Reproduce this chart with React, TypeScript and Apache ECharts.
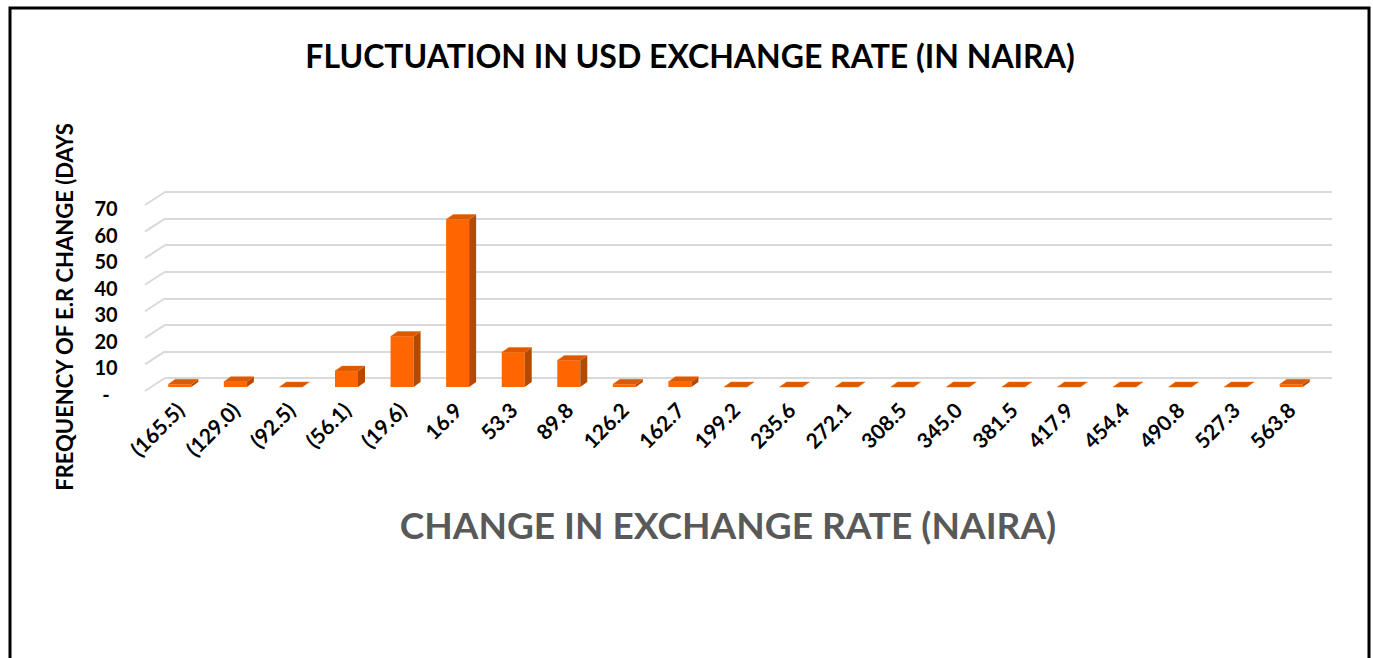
import React, { useEffect, useRef } from "react";
import * as echarts from "echarts";

const categories = [
  "(165.5)", "(129.0)", "(92.5)", "(56.1)", "(19.6)", "16.9", "53.3", "89.8",
  "126.2", "162.7", "199.2", "235.6", "272.1", "308.5", "345.0", "381.5",
  "417.9", "454.4", "490.8", "527.3", "563.8",
];
const frequencies = [1, 2, 0, 6, 19, 63, 13, 10, 1, 2, 0, 0, 0, 0, 0, 0, 0, 0, 0, 0, 1];
const yTicks = [0, 10, 20, 30, 40, 50, 60, 70];

const chartTitle = "FLUCTUATION IN USD EXCHANGE RATE (IN NAIRA)";
const xTitle = "CHANGE IN EXCHANGE RATE (NAIRA)";
const yTitle = "FREQUENCY OF E.R CHANGE (DAYS";

const FONT = "Lato, 'Open Sans', sans-serif";

export default function App() {
  const ref = useRef<HTMLDivElement>(null);
  useEffect(() => {
    if (!ref.current) return;
    const chart = echarts.init(ref.current, undefined, { renderer: "svg" });
    const option: any = {
      animation: false,
      backgroundColor: "#ffffff",
      grid: [
        { left: 165, right: 41, top: 192, bottom: 280 },
        { left: 152, right: 54, top: 208, bottom: 264 },
      ],
      xAxis: [
        {
          gridIndex: 0,
          type: "category",
          data: categories,
          axisLine: { show: false },
          axisTick: { show: false },
          axisLabel: { show: false },
        },
        {
          gridIndex: 1,
          type: "category",
          data: categories,
          axisLine: { show: false },
          axisTick: { show: false },
          axisLabel: {
            interval: 0,
            rotate: 45,
            margin: 12,
            fontSize: 21,
            fontWeight: "bold",
            color: "#000000",
            fontFamily: FONT,
          },
        },
      ],
      yAxis: [
        {
          gridIndex: 0,
          type: "value",
          min: 0,
          max: 70,
          interval: 10,
          axisLine: { show: false },
          axisTick: { show: false },
          axisLabel: { show: false },
          splitLine: { lineStyle: { color: "#D9D9D9", width: 2 } },
        },
        {
          gridIndex: 1,
          type: "value",
          min: 0,
          max: 70,
          interval: 10,
          axisLine: { show: false },
          axisTick: { show: false },
          splitLine: { show: false },
          axisLabel: {
            align: "center",
            margin: 46,
            fontSize: 20,
            fontWeight: "bold",
            color: "#000000",
            fontFamily: FONT,
            formatter: (v: number) => (v === 0 ? "-" : String(v)),
          },
        },
      ],
      series: [
        {
          type: "custom",
          xAxisIndex: 0,
          yAxisIndex: 0,
          silent: true,
          data: yTicks.map((t) => [0, t]),
          encode: { x: 0, y: 1 },
          renderItem: (params: any, api: any) => {
            const p = api.coord([0, api.value(1)]);
            const half = api.size([1, 0])[0] / 2;
            const x0 = p[0] - half;
            return {
              type: "line",
              shape: { x1: x0, y1: p[1], x2: x0 - 20, y2: p[1] + 13 },
              style: { stroke: "#D9D9D9", lineWidth: 2 },
            };
          },
        },
        {
          type: "custom",
          xAxisIndex: 0,
          yAxisIndex: 0,
          data: frequencies.map((v, i) => [i, v]),
          encode: { x: 0, y: 1 },
          renderItem: (params: any, api: any) => {
            const i = api.value(0);
            const v = api.value(1);
            const base = api.coord([i, 0]);
            const top = api.coord([i, v]);
            const w = 23, dx = 7, dy = 5, sx = -13, sy = 9;
            const cx = base[0] + sx;
            const l = cx - w / 2;
            const r = cx + w / 2;
            const yb = base[1] + sy;
            const yt = top[1] + sy;
            return {
              type: "group",
              children: [
                {
                  type: "rect",
                  shape: { x: l, y: yt, width: w, height: Math.max(0, yb - yt) },
                  style: { fill: "#FF6600" },
                },
                {
                  type: "polygon",
                  shape: { points: [[r, yt], [r + dx, yt - dy], [r + dx, yb - dy], [r, yb]] },
                  style: { fill: "#B34A00" },
                },
                {
                  type: "polygon",
                  shape: { points: [[l, yt], [l + dx, yt - dy], [r + dx, yt - dy], [r, yt]] },
                  style: { fill: "#D95A00", stroke: "#F06A10", lineWidth: 0.5 },
                },
              ],
            };
          },
        },
      ],
      graphic: [
        {
          type: "rect",
          shape: { x: 10, y: 8, width: 1359, height: 700 },
          style: { fill: "none", stroke: "#000000", lineWidth: 3 },
        },
        {
          type: "text",
          x: 690,
          y: 55,
          style: {
            text: chartTitle,
            textAlign: "center",
            textVerticalAlign: "middle",
            fontSize: 32,
            fontWeight: "bold",
            fill: "#000000",
            fontFamily: FONT,
          },
        },
        {
          type: "text",
          x: 728,
          y: 524,
          style: {
            text: xTitle,
            textAlign: "center",
            textVerticalAlign: "middle",
            fontSize: 37,
            fontWeight: "bold",
            fill: "#595959",
            fontFamily: FONT,
          },
        },
        {
          type: "text",
          x: 64,
          y: 307,
          rotation: Math.PI / 2,
          style: {
            text: yTitle,
            textAlign: "center",
            textVerticalAlign: "middle",
            fontSize: 22,
            fontWeight: "bold",
            fill: "#000000",
            fontFamily: FONT,
          },
        },
      ],
    };
    chart.setOption(option);
    return () => chart.dispose();
  }, []);
  return (
    <div
      ref={ref}
      style={{ position: "fixed", left: 0, top: 0, width: 1373, height: 658 }}
    />
  );
}
